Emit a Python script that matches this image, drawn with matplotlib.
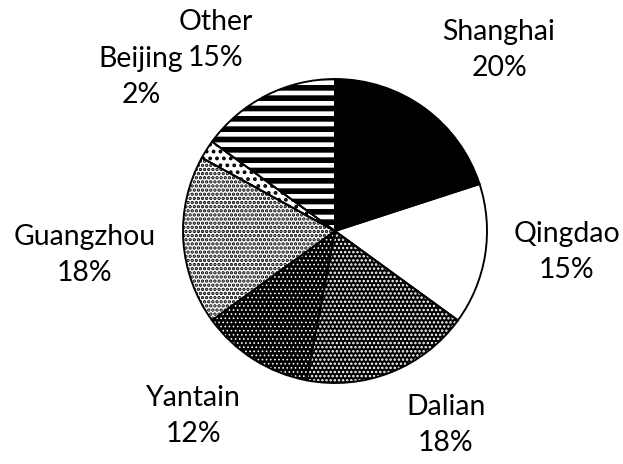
import matplotlib
matplotlib.use("Agg")
import matplotlib.pyplot as plt

# ---- data ----
cities = ["Shanghai", "Qingdao", "Dalian", "Yantain", "Guangzhou", "Beijing", "Other"]
shares = [20, 15, 18, 12, 18, 2, 15]

# ---- styles (fill layer) ----
face_colors = ["black", "white", "black", "black", "white", "white", "white"]
hatch_colors = ["black", "white", "white", "white", "black", "black", "black"]
hatches = [None, None, ".....", ".....", ".....", "...", "--"]
hatch_lw = [1.0, 1.0, 0.95, 0.55, 1.35, 1.4, 3.3]

# label positions (layout, in units of pie radius)
label_pos = [(1.079, 1.191), (1.526, -0.138), (0.730, -1.276), (-0.934, -1.217),
             (-1.645, -0.158), (-1.276, 1.013), (-0.783, 1.257)]

DPI = 124
W, H = 623, 464
CX, CY, R = 335, 231, 152  # pie centre / radius in pixels

plt.rcParams["font.family"] = ["Lato", "DejaVu Sans"]

fig = plt.figure(figsize=(W / DPI, H / DPI), dpi=DPI)
ax = fig.add_axes([0, 0, 1, 1])

wedges, _ = ax.pie(shares, startangle=90, counterclock=False, radius=1,
                   colors=face_colors,
                   wedgeprops=dict(linewidth=0))
for w, hc, ht, hl in zip(wedges, hatch_colors, hatches, hatch_lw):
    w.set_edgecolor(hc)
    w.set_linewidth(0)
    if ht:
        w.set_hatch(ht)
        if hasattr(w, "set_hatch_linewidth"):
            w.set_hatch_linewidth(hl)

# outline layer
ax.pie(shares, startangle=90, counterclock=False, radius=1,
       colors=["none"] * len(shares),
       wedgeprops=dict(linewidth=1.1, edgecolor="black", fill=False))

for name, val, (lx, ly) in zip(cities, shares, label_pos):
    ax.text(lx, ly, f"{name}\n{val}%", ha="center", va="center",
            fontsize=16.5, linespacing=1.5, color="black")

ax.set_aspect("auto")
ax.set_xlim(-CX / R, (W - CX) / R)
ax.set_ylim(-(H - CY) / R, CY / R)
ax.axis("off")

fig.savefig("out.png", dpi=DPI, facecolor="white")
